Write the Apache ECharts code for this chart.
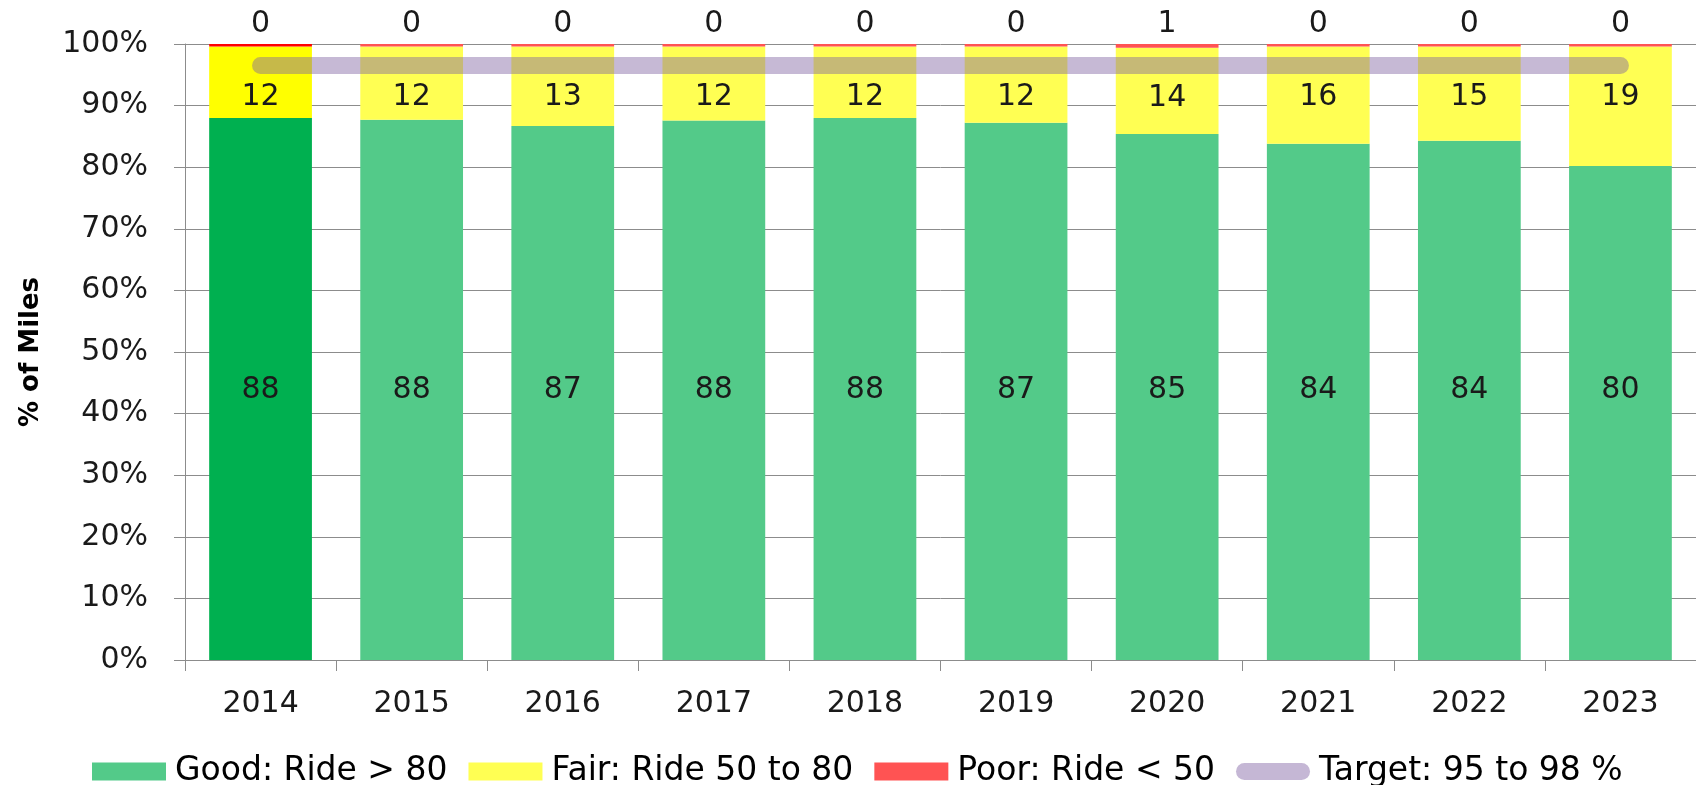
<!DOCTYPE html>
<html>
<head>
<meta charset="utf-8">
<script src="https://cdn.jsdelivr.net/npm/echarts@6/dist/echarts.min.js"></script>
<style>
html,body{margin:0;padding:0;background:#fff;}
#chart{width:1696px;height:785px;}
</style>
</head>
<body>
<div id="chart"></div>
<script>
const years = ['2014','2015','2016','2017','2018','2019','2020','2021','2022','2023'];
const good  = [88.0, 87.7, 86.7, 87.6, 88.0, 87.2, 85.4, 83.8, 84.3, 80.2];
const poor  = [0.4, 0.4, 0.4, 0.4, 0.4, 0.4, 0.6, 0.4, 0.4, 0.4];
const fair  = [11.6, 11.9, 12.9, 12.0, 11.6, 12.4, 14.0, 15.8, 15.3, 19.4];
const target = [96.5, 96.5, 96.5, 96.5, 96.5, 96.5, 96.5, 96.5, 96.5, 96.5];
const yTicks = [0, 10, 20, 30, 40, 50, 60, 70, 80, 90, 100];
const seriesNames = ['Good: Ride > 80', 'Fair: Ride 50 to 80', 'Poor: Ride < 50', 'Target: 95 to 98 %'];

const FONT = 'DejaVu Sans';
const highlightIndex = 0;
const colGood = '#53CA89', colFair = '#FFFF53', colPoor = '#FF5353';
const hiGood = '#00B050', hiFair = '#FFFF00', hiPoor = '#FF0000';

function withHighlight(arr, hiColor) {
  return arr.map((v, i) => i === highlightIndex ? { value: v, itemStyle: { color: hiColor } } : v);
}
const roundFmt = p => String(Math.round(p.value));

const chart = echarts.init(document.getElementById('chart'), null, { renderer: 'canvas' });
chart.setOption({
  animation: false,
  backgroundColor: '#ffffff',
  textStyle: { fontFamily: FONT },
  grid: { left: 185, top: 44, width: 1519, height: 616, containLabel: false },
  legend: {
    left: 87, top: 750,
    itemWidth: 74, itemHeight: 18, itemGap: 21,
    textStyle: { fontFamily: FONT, fontSize: 33, color: '#000', padding: [0, 0, 0, 4] },
    data: [
      { name: seriesNames[0], icon: 'rect', itemStyle: { color: colGood } },
      { name: seriesNames[1], icon: 'rect', itemStyle: { color: colFair } },
      { name: seriesNames[2], icon: 'rect', itemStyle: { color: colPoor } },
      { name: seriesNames[3], icon: 'path://M8.5,0H65.5A8.5,8.5,0,0,1,65.5,17H8.5A8.5,8.5,0,0,1,8.5,0Z', itemStyle: { color: '#C5B7D5' } }
    ]
  },
  xAxis: {
    type: 'category',
    data: years,
    axisLine: { show: true, lineStyle: { color: '#8c8c8c', width: 1 } },
    axisTick: { show: true, interval: 0, length: 11, lineStyle: { color: '#8c8c8c' } },
    axisLabel: { fontFamily: FONT, fontSize: 30, color: '#1a1a1a', margin: 29, interval: 0 }
  },
  yAxis: {
    type: 'value',
    min: yTicks[0], max: yTicks[yTicks.length - 1], interval: 10,
    name: '% of Miles',
    nameLocation: 'middle',
    nameRotate: 90,
    nameGap: 141,
    nameTextStyle: { fontFamily: FONT, fontSize: 26, fontWeight: 'bold', color: '#000' },
    axisLine: { show: true, lineStyle: { color: '#8c8c8c', width: 1 } },
    axisTick: { show: true, length: 11, lineStyle: { color: '#8c8c8c' } },
    axisLabel: { fontFamily: FONT, fontSize: 30, color: '#1a1a1a', margin: 37, formatter: '{value}%' },
    splitLine: { show: true, lineStyle: { color: '#8c8c8c', width: 1 } }
  },
  series: [
    {
      name: seriesNames[0], type: 'bar', stack: 'total', barWidth: '68%',
      itemStyle: { color: colGood },
      label: { show: true, position: 'insideBottom', distance: 255, fontFamily: FONT, fontSize: 30, color: '#1a1a1a', formatter: roundFmt },
      data: withHighlight(good, hiGood)
    },
    {
      name: seriesNames[1], type: 'bar', stack: 'total', barWidth: '68%',
      itemStyle: { color: colFair },
      label: { show: true, position: 'insideTop', distance: 36, fontFamily: FONT, fontSize: 30, color: '#1a1a1a', formatter: roundFmt },
      data: withHighlight(fair, hiFair)
    },
    {
      name: seriesNames[2], type: 'bar', stack: 'total', barWidth: '68%',
      itemStyle: { color: colPoor },
      label: { show: true, position: 'top', distance: 5, fontFamily: FONT, fontSize: 30, color: '#1a1a1a', formatter: roundFmt },
      data: withHighlight(poor, hiPoor)
    },
    {
      name: seriesNames[3], type: 'line', symbol: 'none', z: 5,
      lineStyle: { color: 'rgba(128,100,162,0.45)', width: 17, cap: 'round' },
      itemStyle: { color: '#C5B7D5' },
      data: target
    }
  ]
});
</script>
</body>
</html>
